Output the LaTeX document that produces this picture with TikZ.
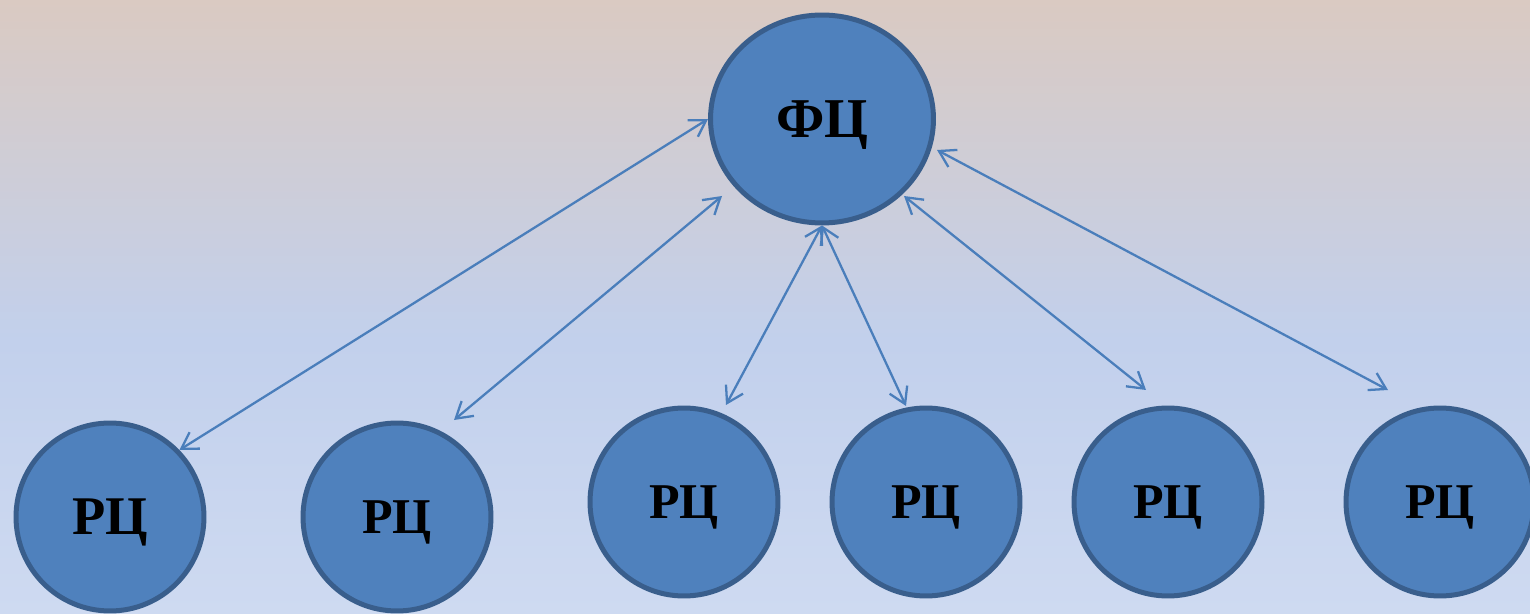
\documentclass[tikz,border=0pt]{standalone}
\usepackage{fontspec}
\setmainfont{Liberation Serif}
\usetikzlibrary{shapes.geometric,arrows.meta}
\definecolor{bgtop}{RGB}{218,202,194}
\definecolor{bgmid}{RGB}{194,208,236}
\definecolor{bgbot}{RGB}{206,218,241}
\definecolor{nodefill}{RGB}{79,129,189}
\definecolor{nodeline}{RGB}{57,94,140}
\definecolor{arrowcol}{RGB}{74,126,187}
\pgfdeclareverticalshading{bgshade}{100bp}{color(0bp)=(bgbot); color(25bp)=(bgbot); color(47.3bp)=(bgmid); color(75bp)=(bgtop); color(100bp)=(bgtop)}
\begin{document}
\begin{tikzpicture}[x=0.02cm,y=-0.02cm,
  center/.style={ellipse,draw=nodeline,fill=nodefill,line width=0.1cm,inner sep=0pt,
     minimum width=4.46cm,minimum height=4.16cm,text depth=0pt,font=\fontsize{32}{32}\selectfont\bfseries},
  region/.style={circle,draw=nodeline,fill=nodefill,line width=0.1cm,inner sep=0pt,
     minimum size=3.76cm,text depth=0pt,font=\fontsize{28.5}{28.5}\selectfont\bfseries},
  link/.style={draw=arrowcol,line width=1.3pt,{Straight Barb[length=9pt,width=11pt]}-{Straight Barb[length=9pt,width=11pt]}}]
\useasboundingbox (0,0) rectangle (1530,614);
\shade[shading=bgshade] (0,0) rectangle (1530,614);
\node[center] (fc) at (822,119) {ФЦ};
\node[region,font=\fontsize{31}{31}\selectfont\bfseries] (r1) at (110,517) {РЦ};
\node[region] (r2) at (397,517) {РЦ};
\node[region] (r3) at (684,502) {РЦ};
\node[region] (r4) at (926,502) {РЦ};
\node[region] (r5) at (1168,502) {РЦ};
\node[region] (r6) at (1440,502) {РЦ};
\coordinate (s2) at (722,196);
\coordinate (e2) at (454,420);
\coordinate (s5) at (904,196);
\coordinate (e5) at (1146,390);
\coordinate (s6) at (937,150);
\coordinate (e6) at (1388,390);
\coordinate (e3) at (726,405);
\coordinate (e4) at (906,406);
\path[link] (fc.180) -- (r1.44);
\path[link] (s2) -- (e2);
\path[link] (fc.south) -- (e3);
\path[link] (fc.south) -- (e4);
\path[link] (s5) -- (e5);
\path[link] (s6) -- (e6);
\end{tikzpicture}
\end{document}
